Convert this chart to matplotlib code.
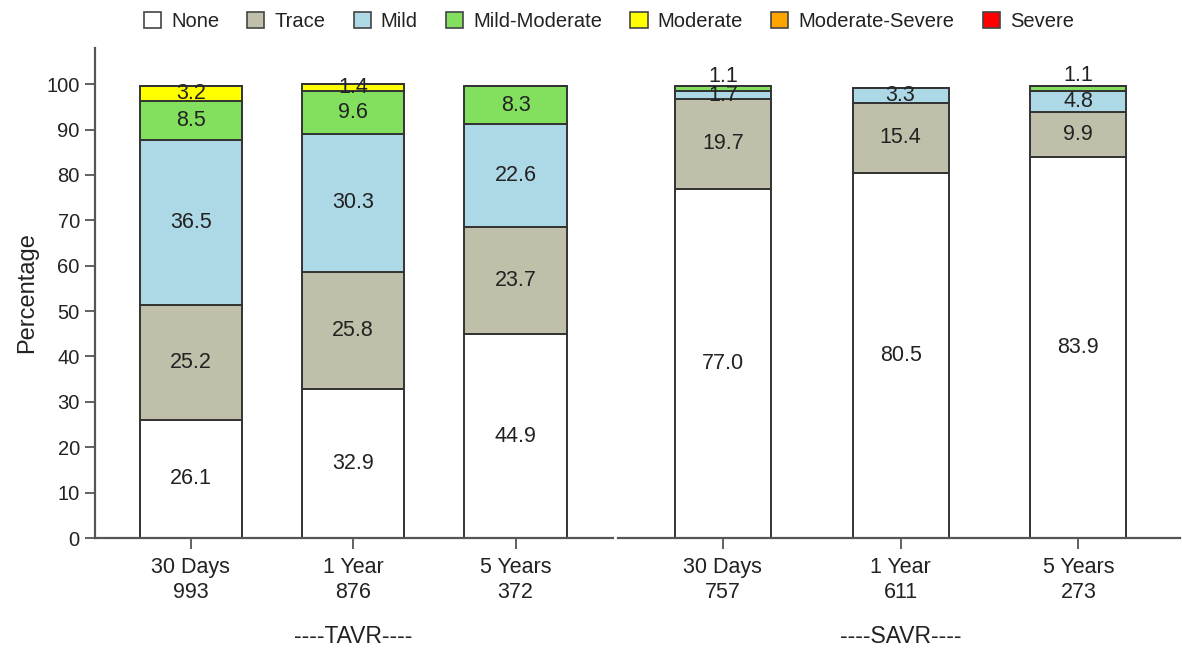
import matplotlib
matplotlib.use("Agg")
import matplotlib.pyplot as plt
from matplotlib.patches import Patch

plt.rcParams['font.family'] = ['Liberation Sans', 'DejaVu Sans']

categories = ["None", "Trace", "Mild", "Mild-Moderate", "Moderate", "Moderate-Severe", "Severe"]
colors = ["#FFFFFF", "#C0C0AA", "#ADD8E6", "#83E05E", "#FFFF00", "#FFA500", "#FF0000"]

time_labels = ["30 Days", "1 Year", "5 Years"]
tavr_n = ["993", "876", "372"]
savr_n = ["757", "611", "273"]

# values per category for [30 Days, 1 Year, 5 Years]
tavr_none = [26.1, 32.9, 44.9]
tavr_trace = [25.2, 25.8, 23.7]
tavr_mild = [36.5, 30.3, 22.6]
tavr_mildmod = [8.5, 9.6, 8.3]
tavr_mod = [3.2, 1.4, 0.0]
tavr_modsev = [0.0, 0.0, 0.0]
tavr_sev = [0.0, 0.0, 0.0]

savr_none = [77.0, 80.5, 83.9]
savr_trace = [19.7, 15.4, 9.9]
savr_mild = [1.7, 3.3, 4.8]
savr_mildmod = [1.1, 0.0, 1.1]
savr_mod = [0.0, 0.0, 0.0]
savr_modsev = [0.0, 0.0, 0.0]
savr_sev = [0.0, 0.0, 0.0]

tavr = [tavr_none, tavr_trace, tavr_mild, tavr_mildmod, tavr_mod, tavr_modsev, tavr_sev]
savr = [savr_none, savr_trace, savr_mild, savr_mildmod, savr_mod, savr_modsev, savr_sev]

TXT = "#222222"
AX = "#555555"

fig = plt.figure(figsize=(11.82, 6.50), dpi=100)
ax1 = fig.add_axes([0.0804, 0.1723, 0.4382, 0.754])
ax2 = fig.add_axes([0.5228, 0.1723, 0.4752, 0.754])


def draw(ax, data, nlabels, width, group):
    x = list(range(len(time_labels)))
    bottoms = [0.0] * len(x)
    for ci, vals in enumerate(data):
        ax.bar(x, vals, width=width, bottom=bottoms, color=colors[ci],
               edgecolor="#333333", linewidth=1.4, zorder=2)
        for i, v in enumerate(vals):
            if v >= 1.0:
                dy = 9 if (ci > 0 and v < 1.3) else 0
                ax.annotate(f"{v:.1f}", (x[i], bottoms[i] + v / 2), xytext=(0, dy),
                            textcoords="offset points", ha="center", va="center",
                            fontsize=15.5, color=TXT, zorder=3)
        bottoms = [b + v for b, v in zip(bottoms, vals)]
    ax.set_xticks(x)
    ax.set_xticklabels([f"{t}\n{n}" for t, n in zip(time_labels, nlabels)],
                       fontsize=15.5, color=TXT, linespacing=1.25)
    ax.set_ylim(0, 108)
    ax.tick_params(axis="x", length=8, width=1.3, color=AX, pad=6)
    for s in ["top", "right"]:
        ax.spines[s].set_visible(False)
    ax.spines["bottom"].set_color(AX)
    ax.spines["bottom"].set_linewidth(1.6)
    ax.text(1, -0.2, group, transform=ax.get_xaxis_transform(), ha="center",
            va="center", fontsize=16.5, color=TXT)


draw(ax1, tavr, tavr_n, 0.63, "----TAVR----")
draw(ax2, savr, savr_n, 0.54, "----SAVR----")
ax1.set_xlim(-0.59, 2.6)
ax2.set_xlim(-0.59, 2.57)

ax1.set_yticks(range(0, 101, 10))
ax1.tick_params(axis="y", length=7, width=1.3, color=AX, labelsize=14.5, labelcolor=TXT, pad=4)
ax1.spines["left"].set_color(AX)
ax1.spines["left"].set_linewidth(1.6)
ax1.set_ylabel("Percentage", fontsize=17, color=TXT, labelpad=6)

ax2.spines["left"].set_visible(False)
ax2.set_yticks([])

handles = [Patch(facecolor=c, edgecolor="#444444", linewidth=1.2) for c in colors]
fig.legend(handles, categories, loc="upper center", bbox_to_anchor=(0.515, 1.01), ncol=7,
           frameon=False, fontsize=14.5, handlelength=0.85, handleheight=0.85,
           handletextpad=0.5, columnspacing=1.4, labelcolor=TXT)

fig.savefig("out.png", dpi=100, facecolor="white")
